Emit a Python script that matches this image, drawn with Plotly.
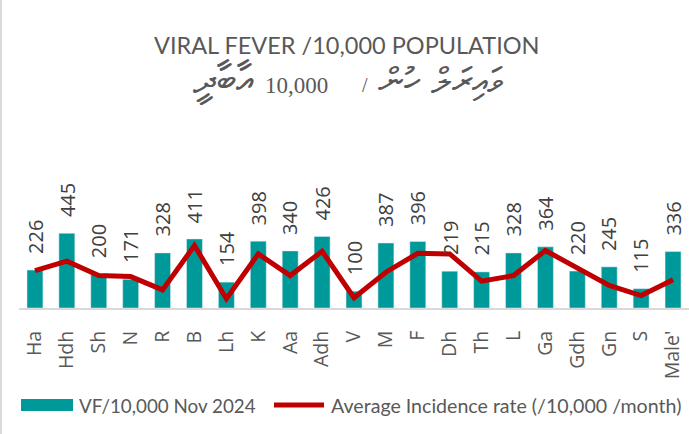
import plotly.graph_objects as go

categories = ["Ha", "Hdh", "Sh", "N", "R", "B", "Lh", "K", "Aa", "Adh", "V", "M", "F",
              "Dh", "Th", "L", "Ga", "Gdh", "Gn", "S", "Male'"]
vf_nov_2024 = [226, 445, 200, 171, 328, 411, 154, 398, 340, 426, 100, 387, 396,
               219, 215, 328, 364, 220, 245, 115, 336]
avg_incidence = [223, 279, 193, 187, 108, 372, 55, 322, 193, 338, 61, 213, 326,
                 322, 160, 193, 342, 239, 134, 74, 168]

title_en = "VIRAL FEVER /10,000 POPULATION"
dv_fever = "ވައިރަލް ހުން"
dv_num = "10,000"
dv_pop = "އާބާދީ"
bar_name = "VF/10,000 Nov 2024"
line_name = "Average Incidence rate (/10,000 /month)"

TEAL = "#009999"
RED = "#C00000"
GREY = "#595959"

W, H = 689, 434
L, R, T, B = 19, 0, 140, 126
PW, PH = W - L - R, H - T - B


def px(x):
    return (x - L) / PW


def py(y):
    return (H - B - y) / PH


fig = go.Figure()
fig.add_trace(go.Bar(x=categories, y=vf_nov_2024, name=bar_name,
                     marker=dict(color=TEAL), width=0.5, showlegend=False))
fig.add_trace(go.Scatter(x=categories, y=avg_incidence, name=line_name, mode="lines",
                         line=dict(color=RED, width=5), showlegend=False))

for c, v in zip(categories, vf_nov_2024):
    fig.add_annotation(x=c, y=v, text=str(v), showarrow=False, textangle=-90,
                       yanchor="bottom", yshift=14,
                       font=dict(family="Open Sans", size=20, color="#404040"))

fig.add_annotation(xref="paper", yref="paper", x=px(347), y=py(45),
                   text=title_en, showarrow=False, xanchor="center", yanchor="middle",
                   font=dict(family="Lato", size=23.5, color=GREY))
# Dhivehi subtitle pieces (right-to-left: fever / 10,000 population)
fig.add_annotation(xref="paper", yref="paper", x=px(441), y=py(81),
                   text=dv_fever, showarrow=False, xanchor="center", yanchor="middle",
                   font=dict(family="DejaVu Sans", size=36, color=GREY))
fig.add_annotation(xref="paper", yref="paper", x=px(365), y=py(85),
                   text="/", showarrow=False, xanchor="center", yanchor="middle",
                   font=dict(family="Liberation Serif", size=20, color=GREY))
fig.add_annotation(xref="paper", yref="paper", x=px(296.5), y=py(85),
                   text=dv_num, showarrow=False, xanchor="center", yanchor="middle",
                   font=dict(family="Liberation Serif", size=23, color=GREY))
fig.add_annotation(xref="paper", yref="paper", x=px(224.5), y=py(81),
                   text=dv_pop, showarrow=False, xanchor="center", yanchor="middle",
                   font=dict(family="DejaVu Sans", size=40, color=GREY))

# left chart border
fig.add_shape(type="line", xref="paper", yref="paper", x0=px(1), x1=px(1),
              y0=py(H), y1=py(0), line=dict(color="#D9D9D9", width=2))

# legend (drawn manually to match the wide swatches)
fig.add_shape(type="rect", xref="paper", yref="paper", x0=px(21), x1=px(73),
              y0=py(411), y1=py(399), fillcolor=TEAL, line=dict(width=0))
fig.add_shape(type="line", xref="paper", yref="paper", x0=px(274), x1=px(324),
              y0=py(405), y1=py(405), line=dict(color=RED, width=5))
fig.add_annotation(xref="paper", yref="paper", x=px(77), y=py(405), text=bar_name,
                   showarrow=False, xanchor="left", yanchor="middle",
                   font=dict(family="Lato", size=18.8, color=GREY))
fig.add_annotation(xref="paper", yref="paper", x=px(329), y=py(405), text=line_name,
                   showarrow=False, xanchor="left", yanchor="middle",
                   font=dict(family="Lato", size=19.6, color=GREY))

fig.update_layout(
    width=W, height=H,
    margin=dict(l=L, r=R, t=T, b=B, pad=0, autoexpand=False),
    paper_bgcolor="white", plot_bgcolor="white",
    showlegend=False,
    xaxis=dict(showline=True, linecolor="#D9D9D9", linewidth=2, tickangle=-90,
               ticks="outside", ticklen=13, tickcolor="rgba(0,0,0,0)", automargin=False,
               tickfont=dict(family="Open Sans", size=19.5, color=GREY)),
    yaxis=dict(range=[0, 1000], visible=False, showgrid=False, automargin=False),
)

fig.write_html("out.html", config={"displayModeBar": False},
               post_script="document.body.style.margin='0';")
